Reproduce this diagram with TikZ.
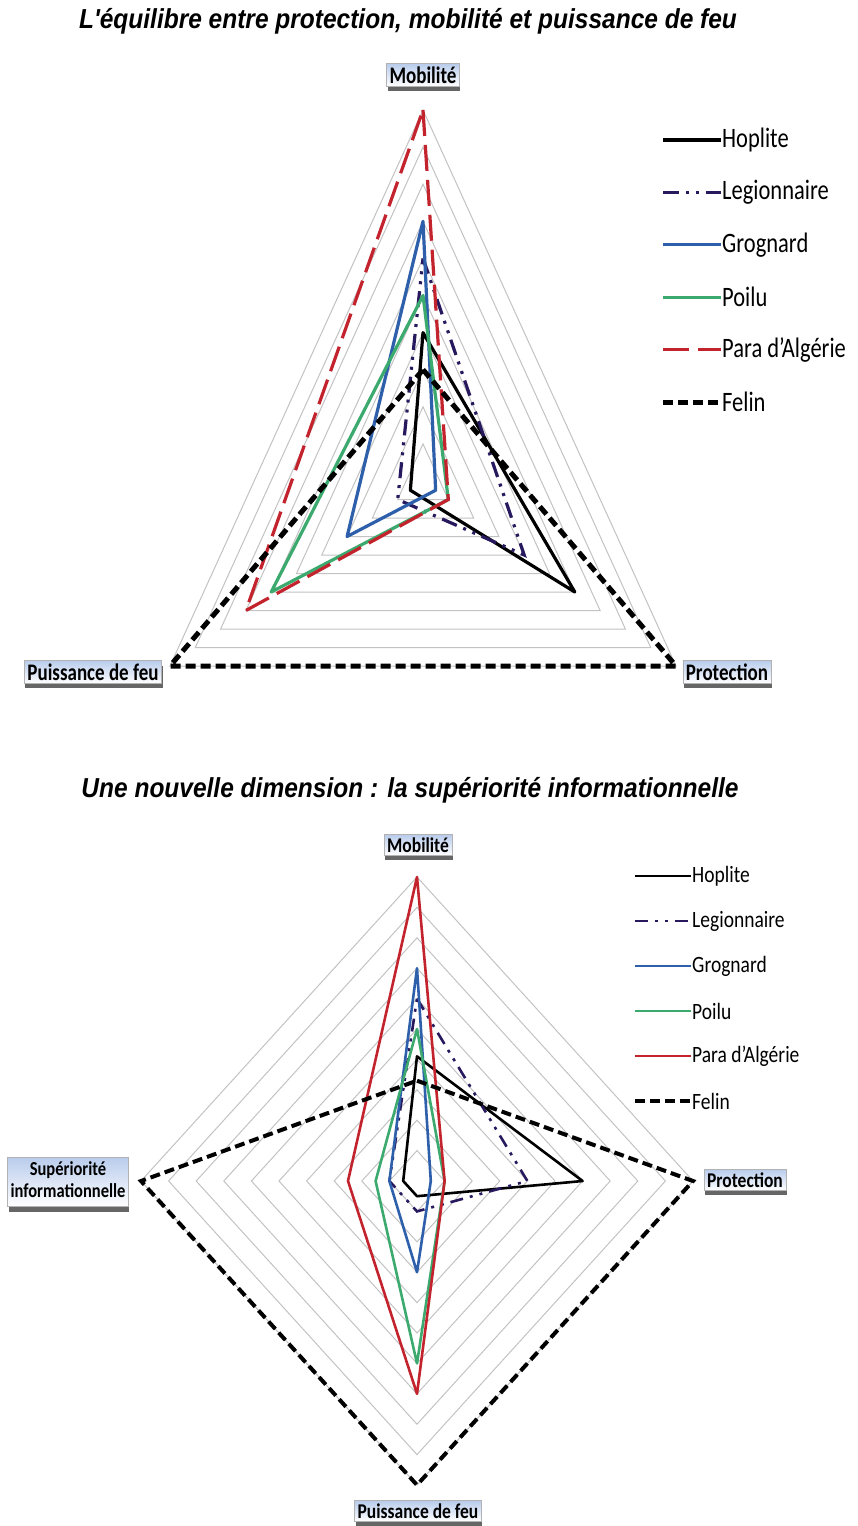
\documentclass[tikz,border=0pt]{standalone}
\usepackage{fontspec}
\usepackage{graphicx}
\setmainfont{Carlito}
\newfontfamily\titlefont{Liberation Sans}
\usetikzlibrary{shadows}
\definecolor{legcol}{RGB}{40,25,95}
\definecolor{grogcol}{RGB}{45,95,170}
\definecolor{poilucol}{RGB}{60,170,110}
\definecolor{paracol}{RGB}{195,35,45}
\definecolor{gridcol}{RGB}{195,195,195}
\definecolor{boxtop}{RGB}{185,204,236}
\newcommand\vst[1]{\scalebox{1}[1.25]{#1}}
\newcommand\vsb[1]{\scalebox{1}[1.2]{#1}}
\newcommand\triplot[4]{%
  \draw[#1] (423,{481-37.1*#2}) -- ({423+25.3*#3},{481+18.5*#3}) -- ({423-25.3*#4},{481+18.5*#4}) -- cycle;}
\newcommand\quadplot[5]{%
  \draw[#1] (417,{1181-30.4*#2}) -- ({417+27.6*#3},1181) -- (417,{1181+30.4*#4}) -- ({417-27.6*#5},1181) -- cycle;}
\begin{document}
\begin{tikzpicture}[x=1pt,y=-1pt,
  gridline/.style={draw=gridcol, line width=1pt},
  hopA/.style={black, line width=3.2pt, line join=round},
  legA/.style={legcol, line width=3.2pt, dash pattern=on 16pt off 7pt on 3pt off 7pt on 3pt off 7pt},
  grogA/.style={grogcol, line width=3.2pt, line join=round},
  poiluA/.style={poilucol, line width=3.2pt, line join=round},
  paraA/.style={paracol, line width=3.2pt, dash pattern=on 26pt off 9pt},
  felinA/.style={black, line width=5pt, dash pattern=on 10pt off 5pt},
  hopB/.style={black, line width=2.6pt, line join=round},
  legB/.style={legcol, line width=2.6pt, dash pattern=on 13pt off 7pt on 3pt off 7pt on 3pt off 7pt},
  grogB/.style={grogcol, line width=2.6pt, line join=round},
  poiluB/.style={poilucol, line width=2.6pt, line join=round},
  paraB/.style={paracol, line width=2.6pt, line join=round},
  felinB/.style={black, line width=4pt, dash pattern=on 10pt off 5pt},
  axlab/.style={font=\bfseries\fontsize{19}{21}\selectfont, draw=gray!60, line width=0.5pt,
    top color=boxtop, bottom color=white, inner xsep=3pt, inner ysep=3pt,
    drop shadow={shadow xshift=1pt, shadow yshift=-5pt, opacity=0.8, fill=black!75}},
  axlabB/.style={axlab, font=\bfseries\fontsize{17.5}{19}\selectfont},
  legtxt/.style={anchor=west, inner sep=0pt, font=\fontsize{22.5}{24}\selectfont},
  legtxtB/.style={anchor=west, inner sep=0pt, font=\fontsize{19.5}{21}\selectfont},
  ttl/.style={font=\titlefont\bfseries\itshape\fontsize{24.5}{27}\selectfont}
]
\useasboundingbox (0,0) rectangle (857,1526);
\fill[white] (0,0) rectangle (857,1526);

% ---------- Chart 1 ----------
\node[ttl] (t1) at (408,21) {\scalebox{1}[1.12]{L'équilibre entre protection, mobilité et puissance de feu}};
\foreach \k in {1,...,10}
  \draw[gridline] (423,{481-37.1*\k}) -- ({423+25.3*\k},{481+18.5*\k}) -- ({423-25.3*\k},{481+18.5*\k}) -- cycle;
\triplot{hopA}{4}{6}{0.5}
\triplot{legA}{6}{4}{1}
\triplot{grogA}{7}{0.5}{3}
\triplot{poiluA}{5}{1}{6}
\triplot{paraA}{10}{1}{7}
\triplot{felinA}{3}{10}{10}
\node[axlab] (m1) at (423,75) {\vst{Mobilité}};
\node[axlab] (f1) at (93,672) {\vst{Puissance de feu}};
\node[axlab] (p1) at (727,672) {\vst{Protection}};

% legend 1
\foreach \i/\st/\nm in {0/hopA/Hoplite,1/legA/Legionnaire,2/grogA/Grognard,3/poiluA/Poilu,4/paraA/Para d'Algérie,5/felinA/Felin}{
  \coordinate (la\i) at (663,{140+52.4*\i});
  \coordinate (lb\i) at (721,{140+52.4*\i});
  \draw[\st] (la\i) -- (lb\i);
  \node[legtxt] (lt\i) at (722,{140+52.4*\i}) {\vst{\nm}};
}

% ---------- Chart 2 ----------
\node[ttl] (t2) at (410,790) {\scalebox{1}[1.12]{Une nouvelle dimension : la supériorité informationnelle}};
\foreach \k in {1,...,10}
  \draw[gridline] (417,{1181-30.4*\k}) -- ({417+27.6*\k},1181) -- (417,{1181+30.4*\k}) -- ({417-27.6*\k},1181) -- cycle;
\quadplot{hopB}{4.1}{6}{0.5}{0.5}
\quadplot{legB}{6}{4}{1}{1}
\quadplot{grogB}{7}{0.5}{3}{1}
\quadplot{poiluB}{5}{1}{6}{1.5}
\quadplot{paraB}{10}{1}{7}{2.5}
\quadplot{felinB}{3.3}{10}{10}{10}
\node[axlabB] (m2) at (418,845) {\vsb{Mobilité}};
\node[axlabB] (p2) at (745,1180) {\vsb{Protection}};
\node[axlabB] (f2) at (418,1511) {\vsb{Puissance de feu}};
\node[axlabB, font=\bfseries\fontsize{16.5}{18}\selectfont] (s2) at (68,1182)
  {\vsb{\begin{tabular}{@{}c@{}}Supériorité\\informationnelle\end{tabular}}};

% legend 2
\foreach \i/\st/\nm in {0/hopB/Hoplite,1/legB/Legionnaire,2/grogB/Grognard,3/poiluB/Poilu,4/paraB/Para d'Algérie,5/felinB/Felin}{
  \coordinate (ma\i) at (635,{876+45*\i});
  \coordinate (mb\i) at (691,{876+45*\i});
  \draw[\st] (ma\i) -- (mb\i);
  \node[legtxtB] (mt\i) at (692,{876+45*\i}) {\vsb{\nm}};
}
\end{tikzpicture}
\end{document}
